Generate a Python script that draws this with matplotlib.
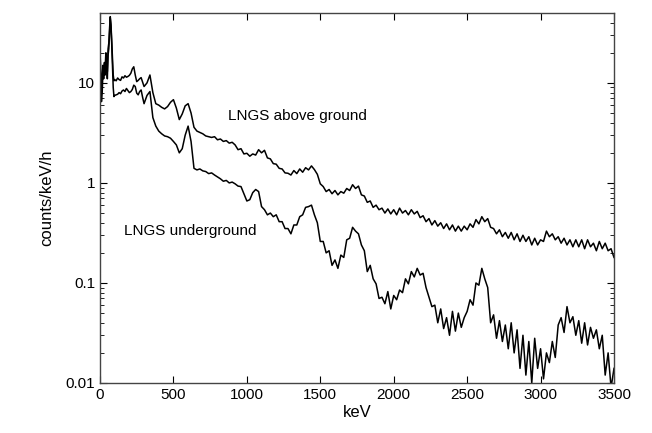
import numpy as np
import matplotlib.pyplot as plt
from matplotlib.ticker import FixedLocator, FixedFormatter, LogLocator, NullFormatter

plt.rcParams['font.family'] = ['Liberation Sans', 'DejaVu Sans']

# energy bins (keV): fine at low energy, coarser above 300 keV
e_low = np.arange(0, 101, 5)
e_mid = np.arange(110, 301, 10)
e_high = np.arange(320, 3501, 20)
energy = np.concatenate([e_low, e_mid, e_high])

# LNGS above ground (counts/keV/h)
above_low = [20, 14, 8.5, 11, 15, 13, 16, 14, 20, 17, 13, 22, 25, 35, 46, 38, 26, 18, 12, 10.5, 10.8]
above_mid = [10.5, 11.2, 10.8, 10.6, 11.5, 11.2, 11.8, 11.4, 11.6, 11.9,
             12.5, 13.8, 14.5, 12.0, 10.3, 10.6, 11.0, 11.3, 10.2, 9.2]
above_high = [
    10.0, 12.0, 8.0, 6.2, 6.0, 5.7, 5.5, 5.8, 6.4, 6.8,
    5.6, 4.3, 4.9, 5.9, 6.2, 5.0, 3.6, 3.3, 3.2, 3.1,
    2.95, 2.9, 2.85, 2.9, 2.7, 2.75, 2.6, 2.65, 2.5, 2.55,
    2.4, 2.15, 2.2, 1.95, 1.98, 1.85, 1.95, 1.9, 2.15, 2.0,
    2.12, 1.78, 1.74, 1.56, 1.54, 1.4, 1.38, 1.26, 1.25, 1.2,
    1.33, 1.24, 1.38, 1.28, 1.42, 1.35, 1.48, 1.36, 1.22, 0.98,
    0.92, 0.82, 0.86, 0.78, 0.84, 0.76, 0.82, 0.79, 0.88, 0.84,
    0.96, 0.88, 0.93, 0.76, 0.74, 0.64, 0.66, 0.57, 0.6, 0.54,
    0.56, 0.5, 0.55, 0.49, 0.54, 0.48, 0.56, 0.5, 0.53, 0.48,
    0.54, 0.49, 0.52, 0.45, 0.47, 0.41, 0.44, 0.38, 0.42, 0.37,
    0.4, 0.35, 0.39, 0.34, 0.38, 0.33, 0.37, 0.33, 0.37, 0.34,
    0.39, 0.36, 0.43, 0.39, 0.46, 0.41, 0.44, 0.36, 0.35, 0.31,
    0.34, 0.29, 0.32, 0.28, 0.32, 0.27, 0.31, 0.26, 0.3, 0.26,
    0.29, 0.24, 0.28, 0.24, 0.27, 0.26, 0.33, 0.29, 0.31, 0.27,
    0.29, 0.25, 0.28, 0.24, 0.27, 0.23, 0.27, 0.23, 0.27, 0.22,
    0.27, 0.23, 0.25, 0.21, 0.26, 0.22, 0.25, 0.21, 0.22, 0.18,
]

# LNGS underground (counts/keV/h)
under_low = [17, 10, 6.5, 8, 13, 11, 14, 12, 17, 15, 11, 19, 22, 32, 44, 36, 24, 15, 9, 7.3, 7.5]
under_mid = [7.6, 7.7, 8.0, 7.8, 8.3, 8.5, 8.2, 8.8, 8.4, 8.0,
             8.2, 8.6, 9.5, 9.2, 7.9, 7.6, 8.2, 8.5, 7.2, 6.2]
under_high = [
    7.5, 8.2, 4.5, 3.7, 3.3, 3.1, 2.95, 2.9, 2.8, 2.6,
    2.4, 2.0, 2.2, 3.0, 3.7, 2.6, 1.4, 1.35, 1.38, 1.32,
    1.3, 1.24, 1.26, 1.2, 1.15, 1.1, 1.04, 1.06, 1.0, 1.02,
    0.98, 0.93, 0.92, 0.78, 0.66, 0.68, 0.8, 0.86, 0.82, 0.58,
    0.54, 0.48, 0.5, 0.46, 0.48, 0.41, 0.41, 0.35, 0.35, 0.31,
    0.38, 0.38, 0.46, 0.48, 0.57, 0.58, 0.6, 0.48, 0.4, 0.26,
    0.26, 0.2, 0.21, 0.15, 0.17, 0.14, 0.19, 0.18, 0.27, 0.28,
    0.36, 0.33, 0.31, 0.24, 0.21, 0.13, 0.15, 0.11, 0.098, 0.07,
    0.072, 0.062, 0.082, 0.055, 0.075, 0.068, 0.085, 0.08, 0.11, 0.098,
    0.13, 0.115, 0.14, 0.12, 0.125, 0.09, 0.072, 0.058, 0.06, 0.04,
    0.055, 0.035, 0.045, 0.03, 0.052, 0.033, 0.05, 0.036, 0.045, 0.052,
    0.068, 0.06, 0.1, 0.095, 0.14, 0.11, 0.09, 0.04, 0.048, 0.028,
    0.042, 0.026, 0.038, 0.022, 0.04, 0.02, 0.034, 0.014, 0.03, 0.012,
    0.026, 0.01, 0.028, 0.014, 0.022, 0.011, 0.02, 0.016, 0.026, 0.018,
    0.038, 0.045, 0.032, 0.058, 0.04, 0.046, 0.03, 0.042, 0.025, 0.04,
    0.024, 0.036, 0.028, 0.034, 0.022, 0.03, 0.012, 0.02, 0.009, 0.014,
]

above = np.array(above_low + above_mid + above_high)
under = np.array(under_low + under_mid + under_high)

fig = plt.figure(figsize=(6.52, 4.33), dpi=100)
ax = fig.add_axes([100 / 652, 50 / 433, 514 / 652, 370 / 433])

ax.plot(energy, above, color='black', lw=1.1)
ax.plot(energy, under, color='black', lw=1.1)

ax.set_yscale('log')
ax.set_xlim(0, 3500)
ax.set_ylim(0.01, 50)

ax.set_xticks(np.arange(0, 3501, 500))
ax.yaxis.set_major_locator(FixedLocator([0.01, 0.1, 1, 10]))
ax.yaxis.set_major_formatter(FixedFormatter(['0.01', '0.1', '1', '10']))
ax.yaxis.set_minor_locator(LogLocator(base=10, subs=np.arange(2, 10)))
ax.yaxis.set_minor_formatter(NullFormatter())

ax.tick_params(which='both', direction='in', top=True, right=True, labelsize=11)
ax.tick_params(which='major', length=5)
ax.tick_params(which='minor', length=3)
for s in ax.spines.values():
    s.set_color('#444444')
    s.set_linewidth(1.0)

ax.set_xlabel('keV', fontsize=12, labelpad=2)
ax.set_ylabel('counts/keV/h', fontsize=12, labelpad=8)

ax.text(872, 4.7, 'LNGS above ground', fontsize=11, va='center')
ax.text(163, 0.33, 'LNGS underground', fontsize=11, va='center')

fig.savefig('out.png', dpi=100)
